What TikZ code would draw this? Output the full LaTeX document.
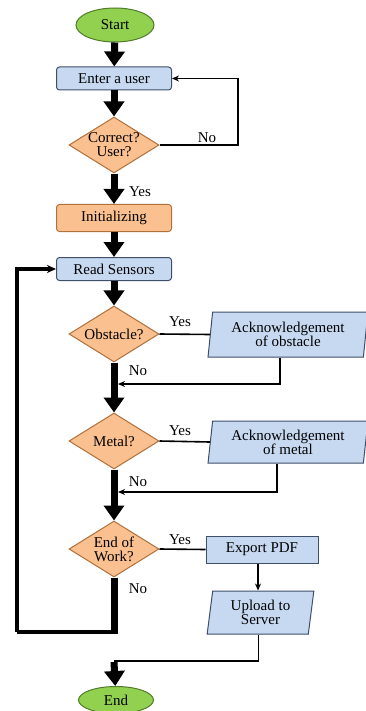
\documentclass[tikz,border=0pt]{standalone}
\usepackage{fontspec}
\setmainfont{Liberation Serif}
\usetikzlibrary{shapes.geometric,arrows.meta,positioning,calc}
\definecolor{termgreen}{HTML}{92D050}
\definecolor{termedge}{HTML}{4F7A28}
\definecolor{procblue}{HTML}{C6D9F1}
\definecolor{procedge}{HTML}{3F4F6A}
\definecolor{decorange}{HTML}{FAC090}
\definecolor{decedge}{HTML}{B0703A}

\begin{document}
\begin{tikzpicture}[
    x=1pt, y=-1pt,
    font=\fontsize{15}{14}\selectfont,
    terminal/.style={ellipse, draw=termedge, fill=termgreen, line width=1pt, minimum width=78pt, minimum height=34pt, inner sep=0pt},
    procbox/.style={rectangle, rounded corners=3pt, draw=procedge, fill=procblue, line width=1pt, minimum width=115pt, minimum height=23pt, inner sep=0pt},
    initbox/.style={procbox, draw=decedge, fill=decorange, minimum height=27pt},
    decision/.style={diamond, draw=decedge, fill=decorange, line width=1pt, aspect=1.6, minimum width=90pt, minimum height=56pt, inner sep=-1pt, align=center},
    iobox/.style={trapezium, trapezium left angle=82, trapezium right angle=98, trapezium stretches=true, draw=procedge, fill=procblue, line width=1pt, align=center, inner sep=0pt},
    bigarrow/.style={line width=7pt, -{Triangle[width=20pt,length=15pt]}},
    flowline/.style={line width=1.6pt},
    thinarrow/.style={flowline, -{Stealth[length=7pt,width=6pt]}},
    lbl/.style={inner sep=0pt},
]
\useasboundingbox (0,0) rectangle (366,711);

% ============================================================
% LOGIN
% ============================================================
\node[terminal] (start) at (115,25) {Start};
\node[procbox] (enter) at (114,78.5) {Enter a user};
\node[decision] (correct) at (114,145) {Correct?\\User?};
\node[initbox] (init) at (114,218) {Initializing};

\draw[bigarrow] (start) -- (enter);
\draw[bigarrow] (enter) -- (correct);
\draw[bigarrow] (correct) -- (init);
\node[lbl] (yes0) at (140,192) {Yes};

\coordinate (back0) at (238,145);
\draw[thinarrow] (correct.east) -- (back0) |- (enter.east);
\node[lbl] (no0) at (207,138) {No};

% ============================================================
% SENSOR LOOP
% ============================================================
\node[procbox] (read) at (114,269) {Read Sensors};
\draw[bigarrow] (init) -- (read);

% obstacle check
\node[decision] (obst) at (114,334) {Obstacle?};
\node[iobox, minimum width=160pt, minimum height=45pt] (ackobs) at (288,334.5) {Acknowledgement\\of obstacle};
\draw[bigarrow] (read) -- (obst);
\draw[flowline] (obst.east) -- (ackobs.west);
\node[lbl] (yes1) at (180,322) {Yes};

\coordinate (join1) at (118,384);
\draw[thinarrow] ([xshift=-8pt]ackobs.south) |- (join1);
\node[lbl] (no1) at (138,371) {No};

% metal check
\node[decision] (metal) at (114,441) {Metal?};
\node[iobox, minimum width=160pt, minimum height=42pt] (ackmet) at (288,442) {Acknowledgement\\of metal};
\draw[bigarrow] (obst) -- (metal);
\draw[flowline] (metal.east) -- (ackmet.west);
\node[lbl] (yes2) at (180,431) {Yes};

\coordinate (join2) at (118,492);
\draw[thinarrow] ([xshift=-11pt]ackmet.south) |- (join2);
\node[lbl] (no2) at (138,482) {No};

% end of work check
\node[decision] (endw) at (114,549) {End of\\Work?};
\draw[bigarrow] (metal) -- (endw);

\node[procbox, rounded corners=0pt, minimum width=112pt, minimum height=27pt] (export) at (262,549.5) {Export PDF};
\node[iobox, minimum width=107pt, minimum height=43pt] (upload) at (260.5,612.5) {Upload to\\Server};
\draw[flowline] (endw.east) -- (export.west);
\node[lbl] (yes3) at (180,540) {Yes};
\draw[thinarrow] ([xshift=-4pt]export.south) -- ([xshift=-4pt]export.south |- upload.north);

% back to the sensors
\coordinate (turn) at (114,632);
\coordinate (left) at (17,632);
\draw[line width=7pt] (endw.south) -- (turn);
\draw[line width=3.5pt] ([xshift=3.5pt]turn) -- (left);
\draw[line width=3.5pt, -{Stealth[length=9pt,width=8pt]}] (left) |- (read.west);
\node[lbl] (no3) at (138,589) {No};

% ============================================================
% FINISH
% ============================================================
\node[terminal, minimum width=75pt, minimum height=27pt] (finish) at (116,700) {End};
\coordinate (join3) at (114,661);
\draw[flowline] ([xshift=-2pt]upload.south) |- (join3);
\draw[bigarrow] ([yshift=-1pt]join3) -- (finish);

\end{tikzpicture}
\end{document}
